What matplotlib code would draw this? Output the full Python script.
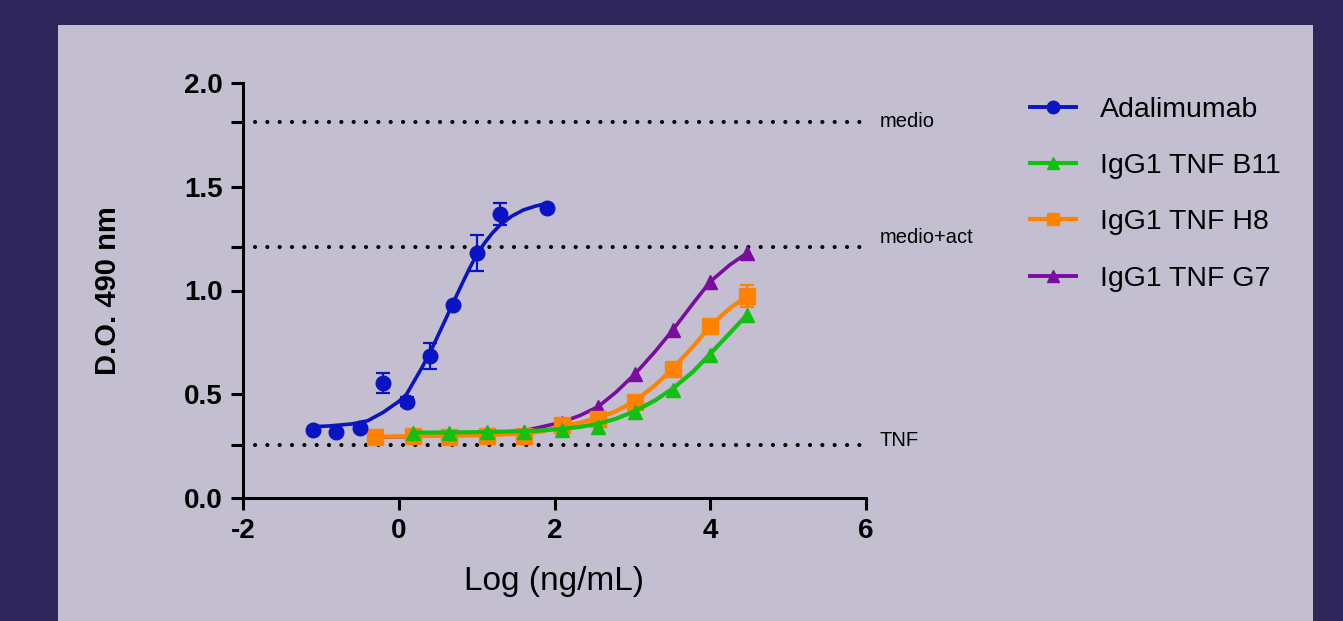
import matplotlib
matplotlib.use("Agg")
import matplotlib.pyplot as plt
from matplotlib.lines import Line2D
from matplotlib.patches import Rectangle

plt.rcParams['font.family'] = ['Liberation Sans', 'DejaVu Sans']

# Adalimumab: measured points (mean, sem) and fitted curve
ada_x = [-1.10, -0.80, -0.50, -0.20, 0.10, 0.40, 0.70, 1.00, 1.30, 1.90]
ada_y = [0.330, 0.320, 0.337, 0.554, 0.465, 0.684, 0.930, 1.182, 1.369, 1.400]
ada_err = [0.0, 0.0, 0.0, 0.050, 0.020, 0.064, 0.0, 0.087, 0.054, 0.0]
ada_fit_x = [-1.15, -0.90, -0.60, -0.40, -0.20, 0.00, 0.10, 0.20, 0.30, 0.40, 0.50,
             0.60, 0.70, 0.80, 0.90, 1.00, 1.10, 1.20, 1.30, 1.45, 1.60, 1.75, 1.90]
ada_fit_y = [0.343, 0.347, 0.357, 0.372, 0.413, 0.465, 0.500, 0.565, 0.630, 0.700, 0.780,
             0.860, 0.942, 1.022, 1.100, 1.172, 1.228, 1.276, 1.315, 1.358, 1.388, 1.406, 1.420]

# IgG1 TNF clones (3-fold dilutions)
ab_x = [-0.30, 0.18, 0.65, 1.13, 1.61, 2.09, 2.56, 3.04, 3.52, 4.00, 4.47]
b11_y = [0.312, 0.312, 0.320, 0.320, 0.328, 0.342, 0.416, 0.520, 0.689, 0.882]
h8_y = [0.292, 0.300, 0.292, 0.300, 0.300, 0.352, 0.381, 0.464, 0.620, 0.829, 0.973]
h8_err = [0, 0, 0, 0, 0, 0, 0, 0, 0, 0, 0.054]
g7_y = [0.293, 0.298, 0.300, 0.308, 0.318, 0.360, 0.437, 0.597, 0.810, 1.043, 1.180]

fit_x = [-0.30, 0.18, 0.65, 1.13, 1.61, 1.85, 2.09, 2.33, 2.56, 2.79, 3.04, 3.29,
         3.52, 3.78, 4.00, 4.25, 4.47]
b11_fit = [0.315, 0.316, 0.318, 0.322, 0.326, 0.333, 0.343, 0.358, 0.382, 0.420,
           0.470, 0.528, 0.609, 0.695, 0.794, 0.882]
h8_fit = [0.295, 0.298, 0.300, 0.303, 0.310, 0.322, 0.345, 0.363, 0.387, 0.418, 0.470,
          0.543, 0.625, 0.730, 0.829, 0.914, 0.973]
g7_fit = [0.293, 0.297, 0.302, 0.310, 0.325, 0.344, 0.365, 0.398, 0.440, 0.510, 0.600,
          0.705, 0.810, 0.938, 1.043, 1.123, 1.180]

# reference levels
ref_y = [1.81, 1.21, 0.255]
ref_labels = ['medio', 'medio+act', 'TNF']

series_names = ['Adalimumab', 'IgG1 TNF B11', 'IgG1 TNF H8', 'IgG1 TNF G7']
blue, green, orange, purple = '#0a14c4', '#12c012', '#ff8200', '#7a0ca0'

fig = plt.figure(figsize=(13.43, 6.21), dpi=100, facecolor='#2f275c')
fig.patches.append(Rectangle((58 / 1343, 0), (1313 - 58) / 1343, 1 - 25 / 621,
                             transform=fig.transFigure, facecolor='#c3bfd1',
                             edgecolor='none', zorder=-5))

ax = fig.add_axes([243 / 1343, 1 - 498 / 621, 623 / 1343, 415 / 621])
ax.set_facecolor('none')

# dotted reference lines with labels
offs = [-3, 3, -1]
for y, lab, o in zip(ref_y, ref_labels, offs):
    ax.plot([-1.84, 6.0], [y, y], color='black', lw=3.0,
            linestyle=(0, (0.01, 2.95)), dash_capstyle='round', zorder=1,
            clip_on=False)
    ax.annotate(lab, xy=(6.0, y), xytext=(9.5, o), textcoords='offset points',
                ha='left', va='baseline', fontsize=14.5, annotation_clip=False)

# G7 (bottom), H8, B11, Adalimumab (top)
ax.plot(fit_x, g7_fit, color=purple, lw=2.6, zorder=2)
ax.plot(ab_x, g7_y, '^', color=purple, ms=10.5, zorder=2)

ax.plot(fit_x, h8_fit, color=orange, lw=3.0, zorder=3)
ax.errorbar(ab_x, h8_y, yerr=h8_err, fmt='s', color=orange, ms=11,
            elinewidth=1.6, capsize=5, capthick=1.6, zorder=3)

ax.plot(fit_x[1:], b11_fit, color=green, lw=3.0, zorder=4)
ax.plot(ab_x[1:], b11_y, '^', color=green, ms=10.5, zorder=4)

ax.plot(ada_fit_x, ada_fit_y, color=blue, lw=2.6, zorder=5)
ax.errorbar(ada_x, ada_y, yerr=ada_err, fmt='o', color=blue, ms=10.5,
            elinewidth=1.6, capsize=5, capthick=1.6, zorder=5)

ax.set_xlim(-2, 6)
ax.set_ylim(0, 2.0)
ax.set_xticks([-2, 0, 2, 4, 6])
ax.set_xticklabels(['-2', '0', '2', '4', '6'])
ax.set_yticks([0.0, 0.5, 1.0, 1.5, 2.0])
ax.set_yticklabels(['0.0', '0.5', '1.0', '1.5', '2.0'])
ax.set_yticks(ref_y, minor=True)

for s in ['top', 'right']:
    ax.spines[s].set_visible(False)
for s in ['left', 'bottom']:
    ax.spines[s].set_linewidth(2.2)
ax.tick_params(which='both', direction='out', length=8.5, width=2.2,
               labelsize=20, pad=6)
for lbl in ax.get_xticklabels() + ax.get_yticklabels():
    lbl.set_fontweight('bold')

ax.set_xlabel('Log (ng/mL)', fontsize=24)
ax.xaxis.set_label_coords(0.5, -0.163)
ax.set_ylabel('D.O. 490 nm', fontsize=21, fontweight='bold')
ax.yaxis.set_label_coords(-0.195, 0.5)

handles = [
    Line2D([], [], color=blue, lw=2.8, marker='o', ms=9),
    Line2D([], [], color=green, lw=3.0, marker='^', ms=9),
    Line2D([], [], color=orange, lw=3.0, marker='s', ms=9),
    Line2D([], [], color=purple, lw=2.8, marker='^', ms=9),
]
fig.legend(handles, series_names, loc='upper left',
           bbox_to_anchor=(1030 / 1343, 1 - 97 / 621), frameon=False,
           fontsize=20.5, handlelength=1.6, handletextpad=0.85,
           labelspacing=1.06, borderpad=0, borderaxespad=0)

fig.savefig('out.png', dpi=100, facecolor=fig.get_facecolor())
